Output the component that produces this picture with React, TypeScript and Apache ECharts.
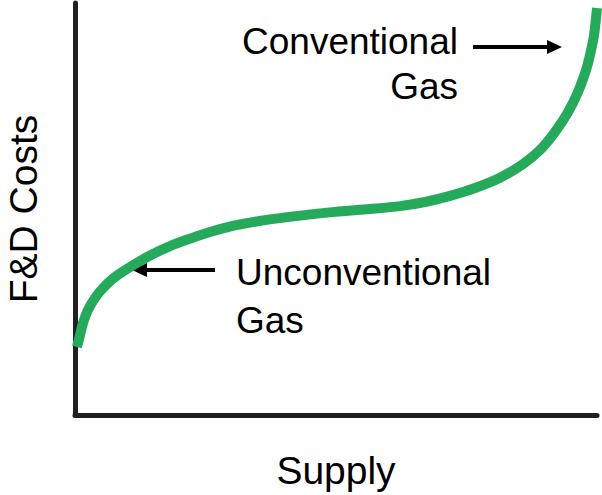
import React, { useEffect, useRef } from "react";
import * as echarts from "echarts";

// Curve (x: supply 0-100, y: F&D cost 0-100)
const supplyValues = [0.38, 0.96, 1.53, 2.49, 3.83, 5.36, 7.66, 10.92, 14.37, 18.2, 22.03, 25.86, 30.65, 36.4, 43.1, 49.81, 56.51, 62.26, 67.05, 71.84, 76.63, 81.42, 85.82, 89.08, 91.95, 94.44, 96.36, 97.89, 98.66, 99.43, 100];
const costValues = [16.5, 19.4, 22.3, 25.5, 28.4, 30.8, 33.5, 36.2, 38.7, 41.0, 42.8, 44.4, 46.0, 47.3, 48.4, 49.3, 50.0, 50.7, 51.7, 53.2, 55.1, 57.6, 60.9, 64.3, 68.7, 73.5, 78.4, 83.7, 87.4, 92.2, 98.8];

const xAxisTitle = "Supply";
const yAxisTitle = "F&D Costs";
const conventionalLabel = ["Conventional", "Gas"];
const unconventionalLabel = ["Unconventional", "Gas"];

const AXIS_COLOR = "#231f20";
const CURVE_COLOR = "#24aa5a";
const FONT = "'Liberation Sans', Arial, Helvetica, sans-serif";

export default function App() {
  const ref = useRef<HTMLDivElement>(null);

  useEffect(() => {
    if (!ref.current) return;
    const chart = echarts.init(ref.current, null, { renderer: "svg" });
    const data = supplyValues.map((x, i) => [x, costValues[i]]);

    const label = (x: number, y: number, text: string, align: string) => ({
      type: "text",
      x,
      y,
      style: {
        text,
        font: `37px ${FONT}`,
        fill: "#000",
        textAlign: align,
        textVerticalAlign: "top",
      },
    });

    chart.setOption({
      animation: false,
      backgroundColor: "#fff",
      grid: { left: 75, right: 5, top: 3, bottom: 80, containLabel: false, outerBoundsMode: "none" },
      xAxis: {
        type: "value",
        min: 0,
        max: 100,
        name: xAxisTitle,
        nameLocation: "middle",
        nameGap: 36,
        nameTextStyle: { fontSize: 39, color: "#000", fontFamily: FONT },
        axisLine: { show: true, onZero: false, lineStyle: { color: AXIS_COLOR, width: 5 } },
        axisTick: { show: false },
        axisLabel: { show: false },
        splitLine: { show: false },
      },
      yAxis: {
        type: "value",
        min: 0,
        max: 100,
        name: yAxisTitle,
        nameLocation: "middle",
        nameRotate: 90,
        nameGap: 32,
        nameTextStyle: { fontSize: 39, color: "#000", fontFamily: FONT },
        axisLine: { show: true, onZero: false, lineStyle: { color: AXIS_COLOR, width: 5 } },
        axisTick: { show: false },
        axisLabel: { show: false },
        splitLine: { show: false },
      },
      series: [
        {
          type: "line",
          data,
          smooth: 0.3,
          showSymbol: false,
          symbol: "none",
          lineStyle: { color: CURVE_COLOR, width: 10, cap: "butt" },
          z: 3,
        },
      ],
      graphic: [
        label(458, 23, conventionalLabel[0], "right"),
        label(458, 68, conventionalLabel[1], "right"),
        label(236, 254, unconventionalLabel[0], "left"),
        label(236, 302, unconventionalLabel[1], "left"),
        // Conventional arrow
        { type: "line", shape: { x1: 473, y1: 47, x2: 550, y2: 47 }, style: { stroke: "#000", lineWidth: 4 } },
        { type: "polygon", shape: { points: [[562, 47], [547, 40], [547, 54]] }, style: { fill: "#000" } },
        // Unconventional arrow
        { type: "line", shape: { x1: 144, y1: 270, x2: 215, y2: 270 }, style: { stroke: "#000", lineWidth: 4 } },
        { type: "polygon", shape: { points: [[132, 270], [147, 263], [147, 277]] }, style: { fill: "#000" } },
      ],
    });
    return () => chart.dispose();
  }, []);

  return (
    <div
      ref={ref}
      style={{ position: "fixed", left: 0, top: 0, width: 602, height: 495, background: "#fff" }}
    />
  );
}
